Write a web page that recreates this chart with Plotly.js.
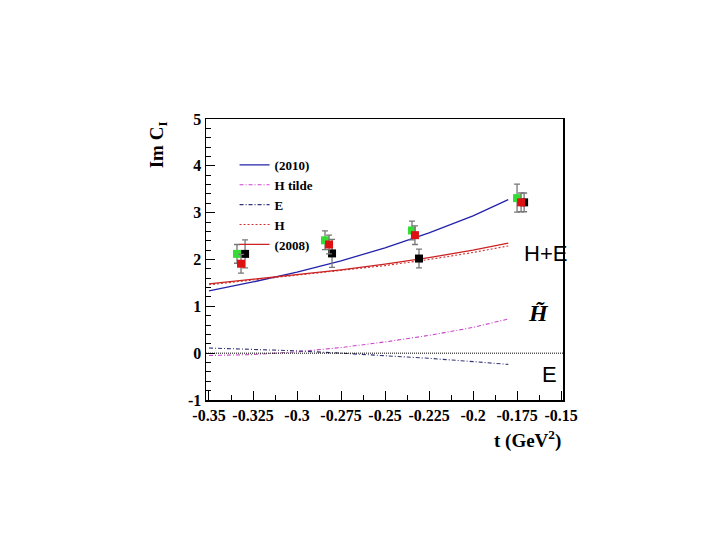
<!DOCTYPE html>
<html>
<head>
<meta charset="utf-8">
<script src="https://cdn.plot.ly/plotly-3.0.1.min.js"></script>
<style>html,body{margin:0;padding:0;background:#fff;}</style>
</head>
<body>
<div id="chart" style="width:720px;height:540px;"></div>
<script>
// Curves
const curveT = [-0.35, -0.325, -0.3, -0.275, -0.25, -0.225, -0.2, -0.18];
const fit2010 = [1.33, 1.52, 1.73, 1.97, 2.25, 2.57, 2.93, 3.28];
const fitHtilde = [-0.05, -0.03, 0.03, 0.12, 0.24, 0.38, 0.55, 0.73];
const fitE = [0.11, 0.08, 0.05, 0.0, -0.05, -0.11, -0.18, -0.24];
const fitH = [1.46, 1.56, 1.66, 1.76, 1.87, 2.0, 2.15, 2.29];
const fit2008 = [1.48, 1.58, 1.68, 1.78, 1.9, 2.04, 2.2, 2.35];

// Data points
const greenT = [-0.3341, -0.2841, -0.2347, -0.175];
const greenY = [2.12, 2.41, 2.62, 3.31];
const greenErr = [0.2, 0.2, 0.2, 0.3];
const redT = [-0.3318, -0.2818, -0.233, -0.1727];
const redY = [1.91, 2.32, 2.52, 3.22];
const redErr = [0.2, 0.2, 0.2, 0.2];
const blackT = [-0.3295, -0.2801, -0.2307, -0.171];
const blackY = [2.12, 2.13, 2.02, 3.22];
const blackErr = [0.3, 0.3, 0.2, 0.2];

const xTickVals = [-0.35, -0.325, -0.3, -0.275, -0.25, -0.225, -0.2, -0.175, -0.15];
const xTickText = ["-0.35", "-0.325", "-0.3", "-0.275", "-0.25", "-0.225", "-0.2", "-0.175", "-0.15"];
const yTickVals = [-1, 0, 1, 2, 3, 4, 5];
const yTickText = ["-1", "0", "1", "2", "3", "4", "5"];

const serif = "Liberation Serif, Times New Roman, serif";

function line(name, y, color, dash, width) {
  return {x: curveT, y: y, type: 'scatter', mode: 'lines', name: name,
    line: {color: color, dash: dash, width: width || 1.2}};
}
function pts(x, y, err, color) {
  return {x: x, y: y, type: 'scatter', mode: 'markers', showlegend: false,
    marker: {symbol: 'square', size: 8, color: color},
    error_y: {type: 'data', array: err, visible: true, color: '#777', thickness: 1.3, width: 3}};
}

const traces = [
  line('(2010)', fit2010, '#2222aa', 'solid', 1.3),
  line('H tilde', fitHtilde, '#cc44cc', '4px,2px,1px,2px', 1.1),
  line('E', fitE, '#333377', '4px,2px,1px,2px', 1.1),
  line('H', fitH, '#cc3333', '2px,2px', 1.1),
  line('(2008)', fit2008, '#cc2222', 'solid', 1.3),
  pts(blackT, blackY, blackErr, '#000000'),
  pts(greenT, greenY, greenErr, '#33dd33'),
  pts(redT, redY, redErr, '#dd1111')
];

const layout = {
  width: 720, height: 540,
  margin: {l: 206, r: 157, t: 119, b: 140},
  paper_bgcolor: '#fff', plot_bgcolor: '#fff',
  showlegend: true,
  legend: {x: 0.08, y: 0.89, xanchor: 'left', yanchor: 'top', bgcolor: 'rgba(0,0,0,0)',
    font: {family: serif, size: 13, color: '#000', weight: 'bold'}, itemwidth: 30, tracegroupgap: 0},
  xaxis: {range: [-0.3517, -0.1489], tickvals: xTickVals, ticktext: xTickText,
    ticks: 'inside', ticklen: 9, tickcolor: '#000', showline: true, linecolor: '#000', linewidth: 1.5, mirror: true,
    showgrid: false, zeroline: false,
    tickfont: {family: serif, size: 16, color: '#000', weight: 'bold'},
    minor: {dtick: 0.0125, tick0: -0.35, ticks: 'inside', ticklen: 5, tickcolor: '#000', showgrid: false}},
  yaxis: {range: [-1, 5], tickvals: yTickVals, ticktext: yTickText,
    ticks: 'inside', ticklen: 9, tickcolor: '#000', showline: true, linecolor: '#000', linewidth: 1.5, mirror: true,
    showgrid: false, zeroline: false,
    tickfont: {family: serif, size: 16, color: '#000', weight: 'bold'},
    minor: {dtick: 0.2, ticks: 'inside', ticklen: 5, tickcolor: '#000', showgrid: false}},
  shapes: [{type: 'line', xref: 'paper', x0: 0, x1: 1, yref: 'y', y0: 0, y1: 0,
    line: {color: '#000', width: 1, dash: '1px,1px'}}],
  annotations: [
    {text: 'Im C<sub>I</sub>', xref: 'paper', yref: 'paper', x: -0.135, y: 1.0, xanchor: 'center', yanchor: 'top',
      textangle: -90, showarrow: false, font: {family: serif, size: 19, color: '#000', weight: 'bold'}},
    {text: 't (GeV<sup>2</sup>)', xref: 'paper', yref: 'paper', x: 1.0, y: -0.09, xanchor: 'right', yanchor: 'top',
      showarrow: false, font: {family: serif, size: 19, color: '#000', weight: 'bold'}},
    {text: 'H+E', xref: 'paper', yref: 'paper', x: 0.885, y: 0.52, xanchor: 'left', yanchor: 'middle',
      showarrow: false, font: {family: 'Liberation Sans, Arial, sans-serif', size: 22, color: '#000'}},
    {text: '<i>H̃</i>', xref: 'paper', yref: 'paper', x: 0.93, y: 0.31, xanchor: 'center', yanchor: 'middle',
      showarrow: false, font: {family: serif, size: 24, color: '#000', weight: 'bold'}},
    {text: 'E', xref: 'paper', yref: 'paper', x: 0.962, y: 0.09, xanchor: 'center', yanchor: 'middle',
      showarrow: false, font: {family: 'Liberation Sans, Arial, sans-serif', size: 22, color: '#000'}}
  ]
};

Plotly.newPlot('chart', traces, layout, {displayModeBar: false, staticPlot: true});
</script>
</body>
</html>
